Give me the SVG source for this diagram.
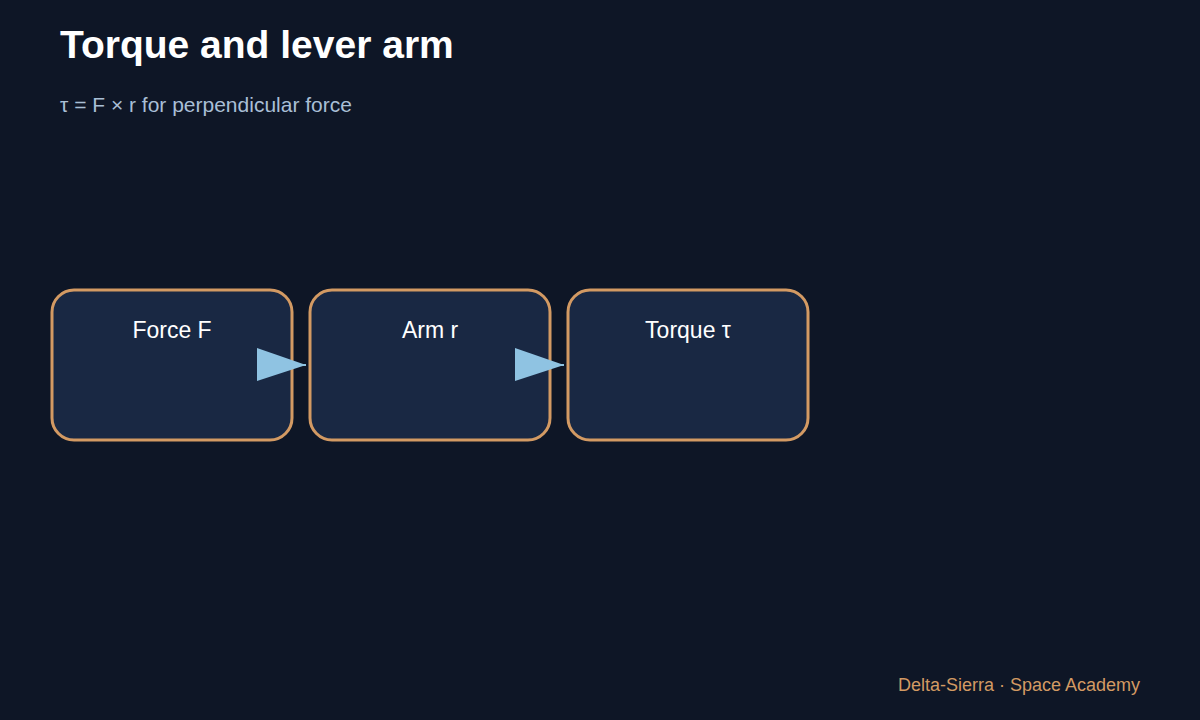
<svg xmlns="http://www.w3.org/2000/svg" width="1200" height="720" viewBox="0 0 1200 720">
<style>
.node rect{fill:#192843;stroke:#d39a63;stroke-width:3}
.lbl{font-family:"Liberation Sans",Arial,sans-serif;font-size:23px;fill:#ffffff;text-anchor:middle}
.conn{stroke:#8fc3e2;stroke-width:2;fill:none}
</style>
<defs>
<marker id="ah" markerUnits="userSpaceOnUse" markerWidth="50" markerHeight="34" refX="49" refY="17" orient="auto" viewBox="0 0 50 34">
<polygon points="0,0 49,17 0,33" fill="#8fc3e2"/>
</marker>
</defs>
<rect width="1200" height="720" fill="#0e1626"/>
<text x="60" y="58" font-family="Liberation Sans,Arial,sans-serif" font-size="39" font-weight="bold" fill="#ffffff">Torque and lever arm</text>
<text x="60" y="112" font-family="Liberation Sans,Arial,sans-serif" font-size="21" fill="#a9bfd6">τ = F × r for perpendicular force</text>
<g id="n1" class="node"><rect x="52" y="290" width="240" height="150" rx="22"/><text class="lbl" x="172" y="338">Force F</text></g>
<g id="n2" class="node"><rect x="310" y="290" width="240" height="150" rx="22"/><text class="lbl" x="430" y="338">Arm r</text></g>
<g id="n3" class="node"><rect x="568" y="290" width="240" height="150" rx="22"/><text class="lbl" x="688" y="338">Torque τ</text></g>
<g id="connectors">
<path class="conn" d="M292 365 L306 365" marker-end="url(#ah)"/>
<path class="conn" d="M550 365 L564 365" marker-end="url(#ah)"/>
</g>
<text x="1140" y="691" text-anchor="end" font-family="Liberation Sans,Arial,sans-serif" font-size="18" fill="#d39a63">Delta-Sierra · Space Academy</text>
</svg>
